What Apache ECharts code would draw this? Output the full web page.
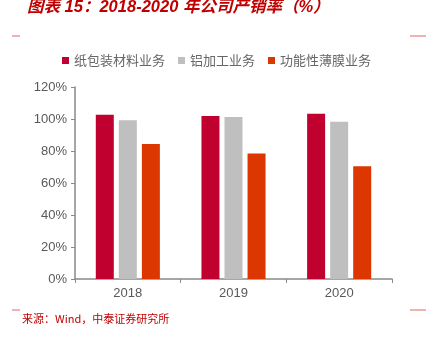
<!DOCTYPE html>
<html><head><meta charset="utf-8">
<script src="https://cdn.jsdelivr.net/npm/echarts@6/dist/echarts.min.js"></script>
<style>html,body{margin:0;padding:0;background:#fff}#c{width:426px;height:339px}</style>
</head><body><div id="c"></div>
<script>
var categories = ['2018', '2019', '2020'];
var seriesNames = ['纸包装材料业务', '铝加工业务', '功能性薄膜业务'];
var paper = [102.7, 101.9, 103.3];
var aluminum = [99.2, 101.3, 98.3];
var film = [84.3, 78.5, 70.5];
var yTicks = [0, 20, 40, 60, 80, 100, 120];
var colors = ['#C0002F', '#BFBFBF', '#DC3700'];

var chart = echarts.init(document.getElementById('c'), null, {renderer: 'canvas'});
var values = [paper, aluminum, film];
var red = '#C00000';
chart.setOption({
  animation: false,
  backgroundColor: '#fff',
  title: {
    text: '图表 15：2018-2020 年公司产销率（%）',
    left: 22, top: -6,
    textStyle: {color: red, fontSize: 16.5, fontWeight: 'bold', fontStyle: 'italic', fontFamily: 'Liberation Sans, Noto Sans CJK SC'}
  },
  graphic: [
    {type: 'line', shape: {x1: 12, y1: 36, x2: 20, y2: 36}, style: {stroke: '#E06666', lineWidth: 1}},
    {type: 'line', shape: {x1: 410, y1: 36, x2: 426, y2: 36}, style: {stroke: '#E06666', lineWidth: 1}},
    {type: 'line', shape: {x1: 12, y1: 310, x2: 20, y2: 310}, style: {stroke: '#E06666', lineWidth: 1}},
    {type: 'line', shape: {x1: 410, y1: 310, x2: 426, y2: 310}, style: {stroke: '#E06666', lineWidth: 1}},
    {type: 'text', left: 22, top: 313, style: {text: '来源：Wind，中泰证券研究所', fill: red, fontSize: 11, fontFamily: 'Noto Sans CJK SC'}}
  ],
  legend: {
    top: 49, left: 57,
    itemWidth: 7, itemHeight: 7, itemGap: 13,
    icon: 'rect',
    textStyle: {color: '#666666', fontSize: 13, fontFamily: 'Noto Sans CJK SC'},
    data: seriesNames
  },
  grid: {left: 75, right: 34, top: 87, bottom: 60},
  xAxis: {
    type: 'category', data: categories,
    axisLine: {lineStyle: {color: '#898989', width: 1.5}},
    axisTick: {show: true, alignWithLabel: false, length: 4, lineStyle: {color: '#898989'}},
    axisLabel: {color: '#595959', fontSize: 13, fontFamily: 'Liberation Sans', margin: 8}
  },
  yAxis: {
    type: 'value', min: 0, max: 120, interval: 20,
    axisLine: {show: true, lineStyle: {color: '#898989', width: 1.5}},
    axisTick: {show: true, length: 4, inside: false, lineStyle: {color: '#898989'}},
    splitLine: {show: false},
    axisLabel: {color: '#595959', fontSize: 13, fontFamily: 'Liberation Sans', margin: 8,
      formatter: function (v) { return yTicks.indexOf(v) >= 0 ? v + '%' : ''; }}
  },
  series: seriesNames.map(function (n, i) {
    return {
      name: n, type: 'bar', data: values[i], barWidth: 18, barGap: '28%',
      itemStyle: {color: colors[i]}
    };
  })
});
</script></body></html>
